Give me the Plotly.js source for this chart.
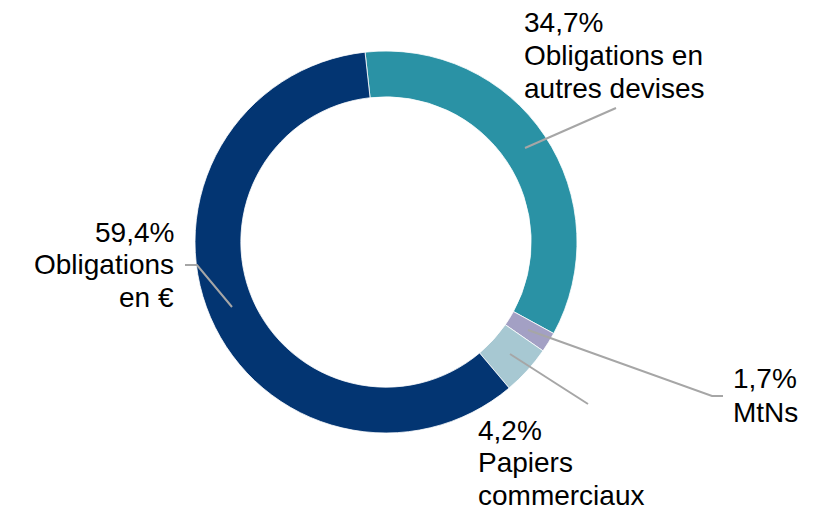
<!DOCTYPE html>
<html>
<head>
<meta charset="utf-8">
<script src="https://cdn.plot.ly/plotly-3.0.1.min.js"></script>
<style>html,body{margin:0;padding:0;background:#fff;}#chart{width:825px;height:511px;}</style>
</head>
<body>
<div id="chart"></div>
<script>
const categories = ["Obligations en autres devises", "MtNs", "Papiers commerciaux", "Obligations en €"];
const values = [34.7, 1.7, 4.2, 59.4];
const labelTexts = ["34,7%<br>Obligations en<br>autres devises", "1,7%<br>MtNs", "4,2%<br>Papiers<br>commerciaux", "59,4%<br>Obligations<br>en €"];
const colors = ["#2a92a5", "#a3a0c4", "#a7c8d2", "#033572"];

const W = 825, H = 511;
const px = x => x / W;
const py = y => 1 - y / H;

const cx = 386, cy = 242, R = 191;

const trace = {
  type: "pie",
  labels: categories,
  values: values,
  sort: false,
  direction: "clockwise",
  rotation: -6.3,
  hole: 0.76,
  textinfo: "none",
  hoverinfo: "label+percent",
  marker: {colors: colors, line: {color: "#ffffff", width: 0.8}},
  domain: {x: [px(cx - R), px(cx + R)], y: [py(cy + R), py(cy - R)]},
  showlegend: false
};

const FS = 28;
const font = {family: "Liberation Sans, Arial, sans-serif", size: FS, color: "#000000"};
// label anchor: x, first baseline, line step, anchor
const annPos = [
  {x: 523, y: 32, step: 33, xanchor: "left"},
  {x: 765, y: 388, step: 34, xanchor: "center"},
  {x: 477, y: 440, step: 32.5, xanchor: "left"},
  {x: 175, y: 242, step: 32.5, xanchor: "right"}
];
const annotations = [];
labelTexts.forEach((t, i) => {
  t.split("<br>").forEach((line, j) => {
    const base = annPos[i].y + j * annPos[i].step;
    annotations.push({
      text: line, xref: "paper", yref: "paper",
      x: px(annPos[i].x), y: py(base - 0.35 * FS),
      xanchor: annPos[i].xanchor, yanchor: "middle", align: annPos[i].xanchor,
      showarrow: false, font: font, borderpad: 0
    });
  });
});

const lineStyle = {color: "#a6a6a6", width: 2};
const leaders = [
  [[525,148],[616,108]],
  [[528,330],[712,396],[723,396]],
  [[510,354],[588,404]],
  [[232,307],[197,265],[185,265]]
];
const shapes = leaders.map(pts => ({
  type: "path", xref: "paper", yref: "paper",
  path: pts.map((p, i) => (i ? "L" : "M") + px(p[0]) + "," + py(p[1])).join(" "),
  line: lineStyle
}));

const layout = {
  width: W, height: H,
  margin: {l: 0, r: 0, t: 0, b: 0},
  paper_bgcolor: "#ffffff",
  plot_bgcolor: "#ffffff",
  annotations: annotations,
  shapes: shapes,
  showlegend: false
};

Plotly.newPlot("chart", [trace], layout, {displayModeBar: false, staticPlot: true});
</script>
</body>
</html>
